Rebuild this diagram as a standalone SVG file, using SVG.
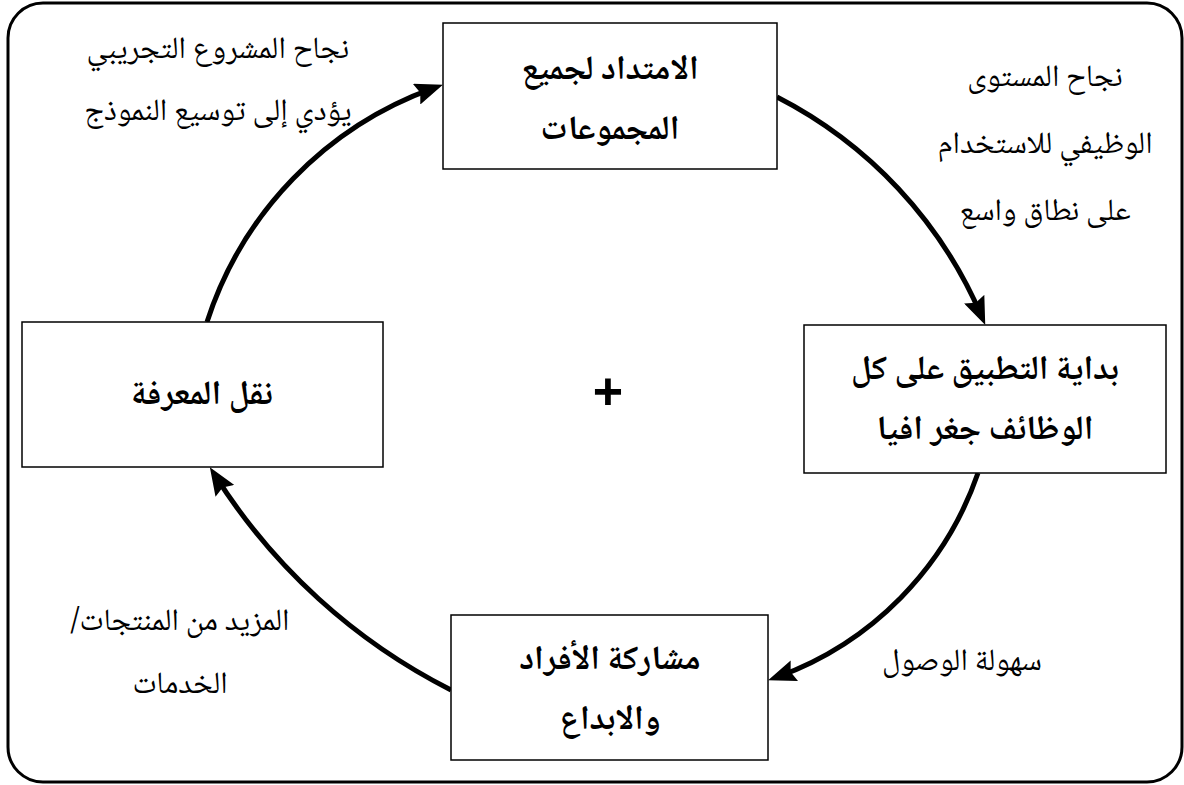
<svg xmlns="http://www.w3.org/2000/svg" width="1184" height="785" viewBox="0 0 1184 785">
<style>
.box{fill:#fff;stroke:#000;stroke-width:1.5}
.bt{font-family:"Noto Naskh Arabic","Noto Sans Arabic","DejaVu Sans",sans-serif;font-size:34px;font-weight:bold;text-anchor:middle;direction:rtl}
.lt{font-family:"Noto Naskh Arabic","Noto Sans Arabic","DejaVu Sans",sans-serif;font-size:31px;text-anchor:middle;direction:rtl}
.arc{fill:none;stroke:#000;stroke-width:5}
</style>
<defs>
<marker id="ah" viewBox="0 0 28 22" refX="18" refY="11" markerWidth="28" markerHeight="22" markerUnits="userSpaceOnUse" orient="auto">
<path d="M0,0 L28,11 L0,22 L4,11 Z" fill="#000"/>
</marker>
</defs>
<rect x="8" y="3" width="1174" height="779" rx="35" ry="35" fill="#fff" stroke="#000" stroke-width="3"/>
<g id="connectors">
<path class="arc" d="M207,322 A369,369 0 0 1 433.5,88.1" marker-end="url(#ah)"/>
<path class="arc" d="M777,97 A441,441 0 0 1 981.3,315.7" marker-end="url(#ah)"/>
<path class="arc" d="M978,473 A332,332 0 0 1 777.5,676.9" marker-end="url(#ah)"/>
<path class="arc" d="M451,690 A599,599 0 0 1 215.2,475.6" marker-end="url(#ah)"/>
</g>
<g id="node-top">
<rect class="box" x="443" y="23" width="334" height="146"/>
<text class="bt" x="610" y="79">الامتداد لجميع</text>
<text class="bt" x="610" y="139">المجموعات</text>
</g>
<g id="node-right">
<rect class="box" x="804" y="325" width="362" height="148"/>
<text class="bt" x="985" y="379">بداية التطبيق على كل</text>
<text class="bt" x="985" y="439">الوظائف جغر افيا</text>
</g>
<g id="node-bottom">
<rect class="box" x="451" y="615" width="317" height="145"/>
<text class="bt" x="610" y="669">مشاركة الأفراد</text>
<text class="bt" x="610" y="729">والابداع</text>
</g>
<g id="node-left">
<rect class="box" x="22" y="322" width="361" height="145"/>
<text class="bt" x="202" y="404">نقل المعرفة</text>
</g>
<g id="labels">
<text class="lt" x="218" y="58">نجاح المشروع التجريبي</text>
<text class="lt" x="218" y="120">يؤدي إلى توسيع النموذج</text>
<text class="lt" x="1045" y="86">نجاح المستوى</text>
<text class="lt" x="1045" y="153">الوظيفي للاستخدام</text>
<text class="lt" x="1045" y="220">على نطاق واسع</text>
<text class="lt" x="962" y="670">سهولة الوصول</text>
<text class="lt" x="180" y="630">المزيد من المنتجات/</text>
<text class="lt" x="180" y="693">الخدمات</text>
</g>
<text x="608" y="409" font-family="Liberation Sans, sans-serif" font-size="52" font-weight="bold" text-anchor="middle">+</text>
</svg>
